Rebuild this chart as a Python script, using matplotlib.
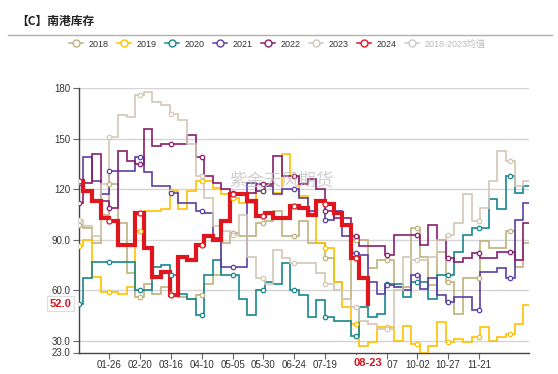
import numpy as np
import matplotlib.pyplot as plt
from matplotlib.lines import Line2D

plt.rcParams['font.family'] = ['Liberation Sans', 'Noto Sans CJK SC']

# weekly readings (first week starts 3 days before 01-01)
s2018 = [99, 97, 88, 105, 123, 100, 70, 56, 64, 58, 62, 58, 56, 55, 57, 64, 69, 88, 94, 92,
         92, 100, 101, 107, 92, 92, 101, 88, 88, 79, 65, 55, 90, 90, 73, 78, 78, 62, 62, 97,
         80, 63, 83, 65, 46, 67, 67, 89, 85, 85, 95, 74, 88]
s2019 = [86, 90, 68, 59, 59, 58, 62, 95, 107, 107, 108, 119, 108, 119, 125, 125, 121, 117, 115, 112,
         112, 119, 123, 118, 141, 128, 116, 105, 88, 85, 65, 50, 40, 27, 29, 38, 38, 30, 39, 28,
         23, 27, 41, 29, 31, 29, 32, 38, 30, 32, 34, 40, 51]
s2020 = [52, 67, 77, 77, 77, 77, 77, 60, 60, 74, 75, 69, 58, 55, 45, 69, 78, 69, 69, 55,
         45, 60, 65, 64, 76, 60, 57, 44, 54, 44, 42, 42, 33, 50, 44, 46, 64, 64, 56, 65,
         65, 55, 69, 69, 83, 93, 97, 97, 114, 108, 128, 118, 122]
s2021 = [124, 139, 125, 117, 131, 131, 131, 139, 130, 122, 122, 118, 112, 112, 107, 106, 91, 74, 74, 74,
         124, 119, 122, 117, 120, 120, 115, 107, 113, 102, 107, 92, 82, 81, 65, 58, 63, 62, 60, 69,
         61, 67, 57, 53, 56, 56, 48, 71, 71, 73, 67, 102, 112]
s2022 = [112, 124, 141, 113, 109, 143, 137, 135, 156, 146, 147, 147, 147, 152, 139, 128, 124, 120, 118, 118,
         118, 123, 123, 140, 128, 128, 123, 126, 120, 107, 103, 103, 92, 86, 86, 86, 81, 93, 93, 93,
         87, 99, 90, 79, 77, 79, 82, 79, 79, 83, 83, 78, 100]
s2023 = [102, 98, 92, 123, 151, 164, 163, 176, 178, 172, 170, 165, 161, 147, 128, 115, 98, 95, 93, 105,
         80, 67, 64, 84, 79, 76, 76, 76, 70, 64, 60, 55, 50, 42, 40, 37, 37, 60, 80, 78,
         78, 80, 90, 93, 100, 117, 101, 109, 125, 143, 137, 122, 125]
s2024 = [125, 119, 113, 103, 101, 87, 87, 106, 85, 68, 71, 57, 80, 78, 87, 92, 90, 101, 117, 117,
         113, 104, 106, 103, 103, 110, 109, 105, 113, 111, 106, 99, 79, 67, 52]

years = ['2018', '2019', '2020', '2021', '2022', '2023', '2024']
series = [s2018, s2019, s2020, s2021, s2022, s2023, s2024]
colors = ['#bfb27c', '#ffc000', '#17868e', '#5b3fa6', '#8b1c6e', '#d3c7b5', '#e0161f']

tick_days = np.arange(25, 326, 25)
tick_labels = ['01-26', '02-20', '03-16', '04-10', '05-05', '05-30', '06-24',
               '07-19', '', '09-07', '10-02', '10-27', '11-21']
y_ticks = [23, 30, 60, 90, 120, 150, 180]
y_labels = ['23.0', '30.0', '60.0', '90.0', '120', '150', '180']

fig = plt.figure(figsize=(5.58, 3.74), dpi=100)
ax = fig.add_axes([78.5 / 558, 21.5 / 374, 450.5 / 558, 264.2 / 374])

mark_days = np.arange(0, 366, 25)
for name, vals, col in zip(years, series, colors):
    vals = np.array(vals, dtype=float)
    days = np.arange(len(vals)) * 7 - 3
    last = name == '2024'
    if last:
        x, y = days, vals
    else:
        x, y = np.append(days, 366), np.append(vals, vals[-1])
    lw = 3.0 if last else 1.2
    ax.plot(x, y, drawstyle='steps-post', color=col, lw=lw, zorder=4 if last else 3,
            solid_joinstyle='miter')
    md = mark_days[mark_days <= days[-1]] if last else mark_days
    idx = np.searchsorted(days, md, side='right') - 1
    ax.plot(md, vals[idx], 'o', ls='none', mfc='white', mec=col, ms=3.6 if last else 3.2,
            mew=0.9, zorder=5)

ax.set_xlim(0, 365.6)
ax.set_ylim(23, 180)
ax.set_xticks(tick_days)
ax.set_xticklabels(tick_labels)
ax.set_yticks(y_ticks)
ax.set_yticklabels(y_labels)
for v in y_ticks[1:]:
    ax.axhline(v, color='#d4d4d4', lw=1, zorder=1)
for s in ['top', 'right']:
    ax.spines[s].set_visible(False)
for s in ['left', 'bottom']:
    ax.spines[s].set_color('#444444')
    ax.spines[s].set_linewidth(1)
ax.tick_params(axis='both', length=4, color='#666666', labelsize=7, labelcolor='#333333', pad=2)
ax.tick_params(axis='x', pad=1.5)

# current-point labels
ax.annotate('52.0', xy=(0, 52), xycoords=('axes fraction', 'data'), xytext=(-5, 0),
            textcoords='offset points', ha='right', va='center', color='#d7141d',
            fontsize=8, fontweight='bold', zorder=10, annotation_clip=False,
            bbox=dict(boxstyle='square,pad=0.25', fc='white', ec='#dddddd', lw=0.8))
ax.annotate('08-23', xy=(235, 0), xycoords=('data', 'axes fraction'), xytext=(0, -11),
            textcoords='offset pixels', ha='center', va='center', color='#d7141d',
            fontsize=8, fontweight='bold', zorder=10, annotation_clip=False,
            bbox=dict(boxstyle='square,pad=0.3', fc='white', ec='white', lw=0.8))

# watermark
fig.text(0.505, 1 - 180 / 374, '紫金天风期货', ha='center', va='center', fontsize=12.5,
         color='#c4c4c4', alpha=0.8, zorder=0)

# title and rule
fig.text(16 / 558, 1 - 21 / 374, '【C】南港库存', ha='left', va='center', fontsize=8.5,
         fontweight='bold', color='#222222', family=['Noto Sans CJK SC'])
fig.add_artist(Line2D([8 / 558, 552 / 558], [1 - 35 / 374, 1 - 35 / 374], color='#b0b0b0', lw=1))

handles = [Line2D([], [], color=c, lw=1.1, marker='o', ms=5, mfc='white', mec=c, mew=1)
           for c in colors]
handles.append(Line2D([], [], color='#cccccc', lw=1.1, marker='o', ms=5, mfc='white',
                      mec='#cccccc', mew=1))
labels = years + ['2018-2023均值']
leg = fig.legend(handles, labels, loc='center', bbox_to_anchor=(0.497, 1 - 44 / 374), ncol=8,
                 frameon=False, fontsize=6.5, handlelength=1.5, handletextpad=0.6,
                 columnspacing=1.0)
for t in leg.get_texts():
    t.set_color('#333333')
leg.get_texts()[-1].set_color('#bbbbbb')

fig.savefig('out.png', dpi=100)
